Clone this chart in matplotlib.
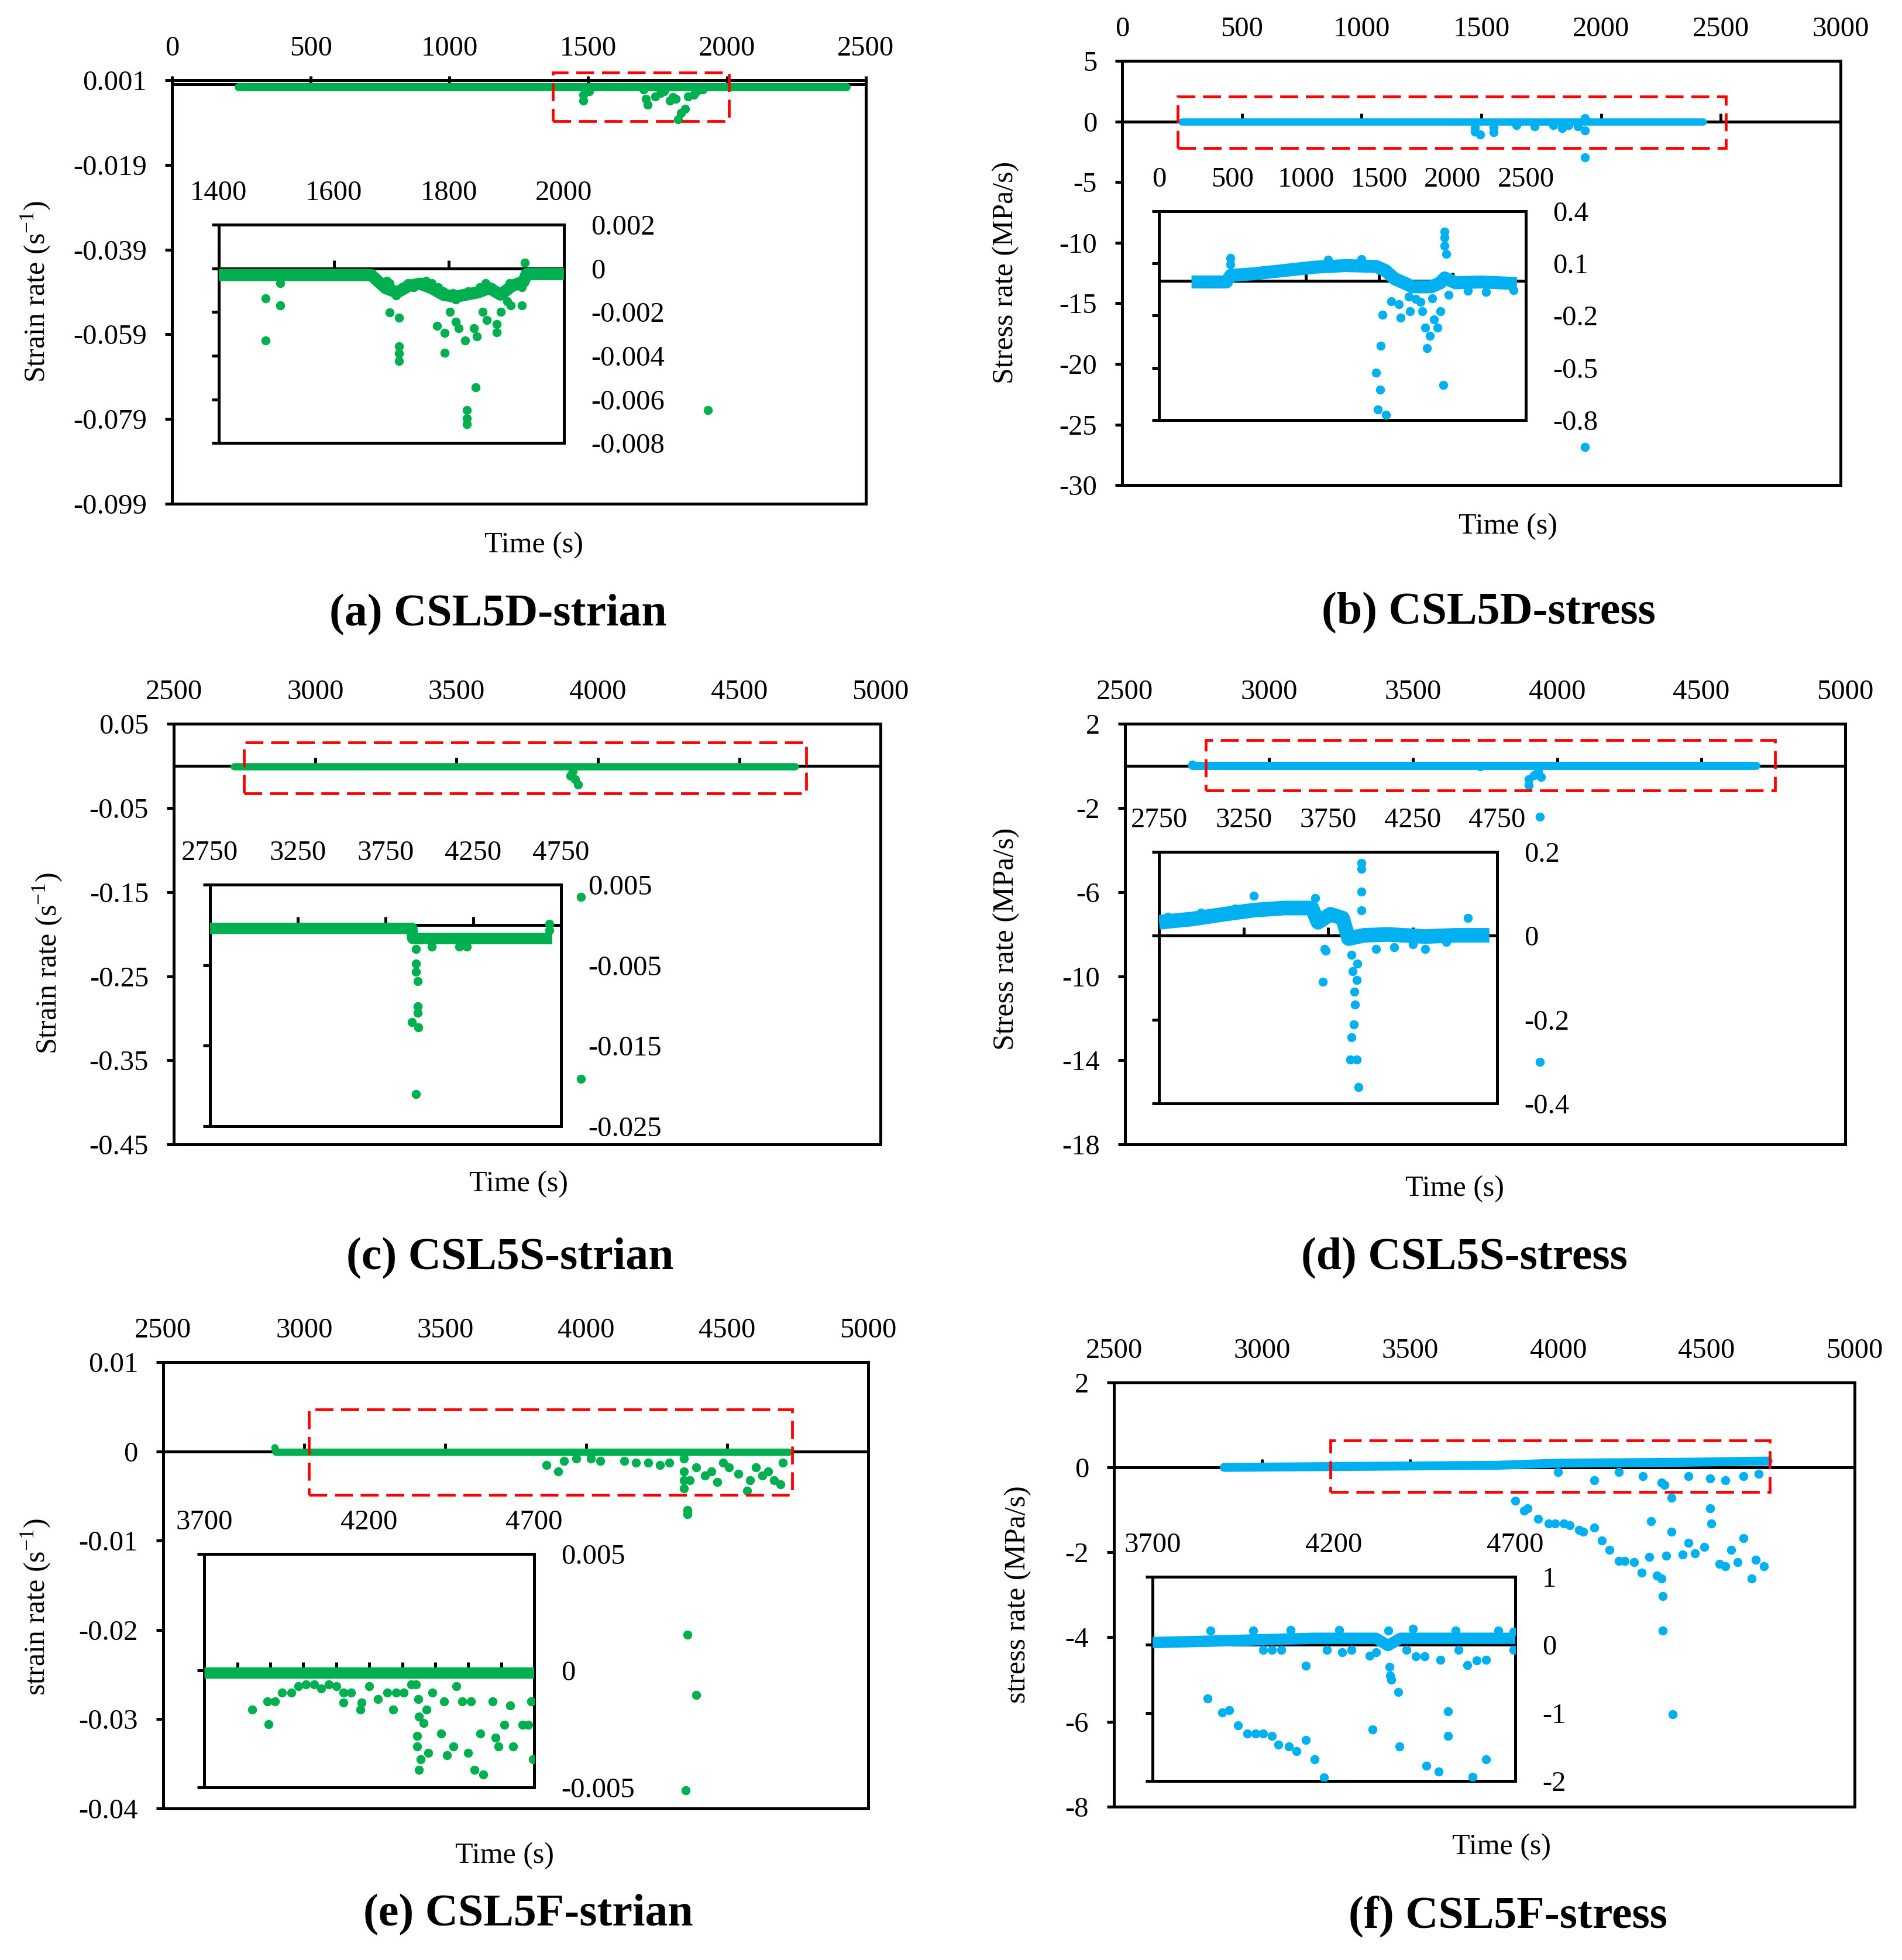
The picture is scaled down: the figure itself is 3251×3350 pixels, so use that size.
import numpy as np
import matplotlib
matplotlib.use('Agg')
import matplotlib.pyplot as plt
from matplotlib.patches import Rectangle
from matplotlib.ticker import FixedLocator, FuncFormatter, MultipleLocator

plt.rcParams['font.family'] = ['Liberation Serif', 'DejaVu Serif']
plt.rcParams['axes.unicode_minus'] = False
plt.rcParams['mathtext.fontset'] = 'custom'
plt.rcParams['mathtext.rm'] = 'Liberation Serif'

GREEN = '#00B050'
BLUE = '#00B0F0'

# ---------------- (a) CSL5D strain ----------------
a_band_t = [240, 2430]
a_band_v = [-0.0006, -0.0006]
a_pts_t = [1482, 1482, 1503, 1700, 1708, 1715, 1741, 1760, 1773, 1795, 1805, 1816, 1823, 1834,
           1849, 1859, 1881, 1892, 1913, 1931]
a_pts_v = [-0.0038, -0.0024, -0.0016, -0.0012, -0.0034, -0.0048, -0.0029, -0.0020, -0.0016,
           -0.0038, -0.0030, -0.0034, -0.0082, -0.0067, -0.0058, -0.0029, -0.0024, -0.0016,
           -0.0012, -0.0769]
a_box = [1372, 2008, -0.0087, 0.0028]
a_in_band_t = [1400, 1665, 1690, 1710, 1730, 1750, 1770, 1790, 1810, 1830, 1850, 1870, 1890,
               1910, 1930, 1935, 2000]
a_in_band_v = [-0.0003, -0.0003, -0.0009, -0.0011, -0.0008, -0.0007, -0.0009, -0.0012, -0.0013,
               -0.0012, -0.0011, -0.0009, -0.0012, -0.0008, -0.0006, -0.00026, -0.00026]
a_in_pts_t = [1481, 1481, 1507, 1507, 1677, 1687, 1697, 1703, 1708, 1692, 1718, 1729, 1739, 1750,
              1760, 1770, 1781, 1791, 1797, 1807, 1812, 1823, 1833, 1843, 1854, 1864, 1875, 1885,
              1896, 1906, 1917, 1927, 1932,
              1697, 1713, 1713, 1713, 1713, 1779, 1793, 1793, 1802, 1812, 1817, 1828, 1831, 1831,
              1831, 1843, 1847, 1849, 1859, 1866, 1883, 1883, 1890, 1901, 1908, 1927]
a_in_pts_v = [-0.00138, -0.0033, -0.00067, -0.0017, -0.00067, -0.00086, -0.00067, -0.00105,
              -0.00123, -0.00058, -0.00086, -0.00067, -0.00086, -0.00067, -0.00058, -0.00067,
              -0.00086, -0.00105, -0.00123, -0.00114, -0.00142, -0.00123, -0.00105, -0.00114,
              -0.00086, -0.00067, -0.00086, -0.00114, -0.00105, -0.00067, -0.00067, -0.00086,
              0.00027,
              -0.00202, -0.00227, -0.00358, -0.0039, -0.00424, -0.00264, -0.00296, -0.00386,
              -0.00198, -0.00245, -0.00274, -0.0033, -0.0065, -0.00687, -0.00715, -0.00274,
              -0.00546, -0.00311, -0.00198, -0.00236, -0.00255, -0.00292, -0.00198, -0.00152,
              -0.0017, -0.0017]
a_xticks = [0, 500, 1000, 1500, 2000, 2500]
a_yticks = [-0.099, -0.079, -0.059, -0.039, -0.019, 0.001]
a_in_xticks = [1400, 1600, 1800, 2000]
a_in_yticks = [-0.008, -0.006, -0.004, -0.002, 0, 0.002]

# ---------------- (b) CSL5D stress ----------------
b_band_t = [250, 2425]
b_band_v = [0, 0]
b_pts_t = [1473, 1494, 1473, 1552, 1552, 1647, 1723, 1800, 1838, 1864, 1902, 1933, 1933, 1933, 1933]
b_pts_v = [-0.82, -1.09, -0.48, -0.88, -0.48, -0.31, -0.41, -0.31, -0.55, -0.31, -0.41, -0.75,
           0.27, -2.95, -26.86]
b_box = [231, 2522, -2.2, 2.05]
b_in_band_t = [221, 458, 487, 646, 854, 1063, 1271, 1479, 1542, 1604, 1729, 1854, 1917, 1946,
               2021, 2188, 2438]
b_in_band_v = [-0.007, -0.007, 0.03, 0.04, 0.059, 0.078, 0.087, 0.082, 0.059, 0.012, -0.035,
               -0.035, -0.012, 0.016, -0.012, -0.007, -0.016]
b_in_pts_t = [487, 487, 1492, 1479, 1508, 1546, 1512, 1521, 1583, 1633, 1646, 1708, 1750, 1792,
              1813, 1825, 1846, 1875, 1896, 1917, 1938, 1946, 1946, 1946, 1958, 1971, 2104, 2229,
              2417, 1150, 1380, 1700, 1780, 1860]
b_in_pts_v = [0.13, 0.094, -0.741, -0.529, -0.624, -0.769, -0.372, -0.195, -0.118, -0.134,
              -0.212, -0.176, -0.106, -0.176, -0.27, -0.388, -0.318, -0.224, -0.271, -0.176,
              -0.6, 0.282, 0.247, 0.2, 0.153, -0.082, -0.059, -0.063, -0.054, 0.12, 0.125,
              -0.09, -0.12, -0.1]
b_xticks = [0, 500, 1000, 1500, 2000, 2500, 3000]
b_yticks = [-30, -25, -20, -15, -10, -5, 0, 5]
b_in_xticks = [0, 500, 1000, 1500, 2000, 2500]
b_in_yticks = [-0.8, -0.5, -0.2, 0.1, 0.4]

# ---------------- (c) CSL5S strain ----------------
c_band_t = [2712, 4698]
c_band_v = [-0.0005, -0.0005]
c_pts_t = [3902, 3919, 3929, 3912, 3940, 3940]
c_pts_v = [-0.0118, -0.0157, -0.0221, -0.006, -0.1555, -0.372]
c_box = [2748, 4737, -0.033, 0.028]
c_in_band_t = [2750, 3900, 3905, 4700]
c_in_band_v = [-0.00044, -0.00044, -0.0017, -0.0017]
c_in_pts_t = [4015, 4169, 4213, 3923, 3923, 3923, 3933, 3933, 3933, 3899, 3936, 3923, 4682, 4682]
c_in_pts_v = [-0.0027, -0.0027, -0.0027, -0.003, -0.0048, -0.0058, -0.007, -0.0101, -0.0109,
              -0.0121, -0.0127, -0.021, 0.0001, -0.0007]
c_xticks = [2500, 3000, 3500, 4000, 4500, 5000]
c_yticks = [-0.45, -0.35, -0.25, -0.15, -0.05, 0.05]
c_in_xticks = [2750, 3250, 3750, 4250, 4750]
c_in_yticks = [-0.025, -0.015, -0.005, 0.005]

# ---------------- (d) CSL5S stress ----------------
d_band_t = [2734, 4692]
d_band_v = [0, 0]
d_pts_t = [2734, 3732, 3902, 3902, 3919, 3944, 3934, 3940, 3940]
d_pts_v = [0.05, -0.04, -0.63, -0.92, -0.43, -0.53, -0.24, -2.42, -14.07]
d_box = [2780, 4756, -1.17, 1.22]
d_in_band_t = [2750, 2949, 3130, 3311, 3491, 3654, 3690, 3763, 3835, 3871, 3962, 4106, 4323,
               4504, 4703]
d_in_band_v = [0.032, 0.040, 0.051, 0.061, 0.066, 0.066, 0.032, 0.051, 0.042, -0.007, 0.001,
               0.003, -0.002, 0.001, 0.001]
d_in_pts_t = [3311, 3672, 3727, 3734, 3719, 3889, 3896, 3904, 3907, 3900, 3889, 3882, 3918, 3929,
              3947, 3947, 3947, 3947, 3921, 3918, 4577, 4034, 4142, 4323, 2800, 3000, 3200, 4250,
              4450]
d_in_pts_v = [0.095, 0.09, -0.032, -0.036, -0.11, -0.046, -0.085, -0.134, -0.164, -0.212, -0.242,
              -0.295, -0.295, -0.361, 0.174, 0.159, 0.105, 0.061, -0.066, -0.105, 0.042, -0.032,
              -0.027, -0.032, 0.045, 0.055, 0.065, -0.02, -0.015]
d_xticks = [2500, 3000, 3500, 4000, 4500, 5000]
d_yticks = [-18, -14, -10, -6, -2, 2]
d_in_xticks = [2750, 3250, 3750, 4250, 4750]
d_in_yticks = [-0.4, -0.2, 0, 0.2]

# ---------------- (e) CSL5F strain ----------------
e_band_t = [2896, 2900, 4719]
e_band_v = [0.0004, -0.0001, -0.0001]
e_pts_t = [3858, 3900, 3921, 3964, 4017, 4049, 4134, 4177, 4219, 4262, 4294, 4347, 4347, 4347,
           4347, 4358, 4358, 4368, 4390, 4422, 4443, 4464, 4485, 4507, 4539, 4571, 4581, 4602,
           4624, 4645, 4666, 4688, 4698, 4358, 4390, 4353]
e_pts_v = [-0.00154, -0.00226, -0.00106, -0.00082, -0.00082, -0.00106, -0.00106, -0.0013,
           -0.0013, -0.00154, -0.0013, -0.00082, -0.00226, -0.00322, -0.00418, -0.00659,
           -0.00707, -0.00322, -0.00178, -0.00274, -0.00226, -0.00346, -0.0013, -0.00178,
           -0.0025, -0.00442, -0.00322, -0.00178, -0.00274, -0.00226, -0.00322, -0.0037,
           -0.0013, -0.02053, -0.02726, -0.03794]
e_box = [3017, 4730, -0.0049, 0.0047]
e_in_band_t = [3700, 4700]
e_in_band_v = [-0.0001, -0.0001]
e_in_pts_t = [3845, 3895, 3891, 3915, 3936, 3964, 3985, 4009, 4033, 4055, 4078, 4100, 4122, 4122,
              4145, 4173, 4176, 4200, 4227, 4255, 4273, 4282, 4304, 4327, 4345, 4345, 4355, 4351,
              4351, 4364, 4373, 4378, 4391, 4418, 4427, 4436, 4455, 4464, 4482, 4500, 4509, 4518,
              4536, 4545, 4573, 4582, 4591, 4609, 4627, 4636, 4664, 4682, 4691, 4696, 4342, 4349]
e_in_pts_v = [-0.00168, -0.00229, -0.00132, -0.00132, -0.00095, -0.00095, -0.00067, -0.00058,
              -0.00058, -0.00076, -0.00058, -0.00067, -0.00095, -0.00137, -0.00095, -0.00168,
              -0.00137, -0.00067, -0.00122, -0.00095, -0.00168, -0.00095, -0.00095, -0.00058,
              -0.00279, -0.00325, -0.0038, -0.00426, -0.00196, -0.00224, -0.00168, -0.00353,
              -0.00095, -0.0027, -0.00132, -0.00362, -0.00325, -0.00067, -0.00132, -0.00353,
              -0.00132, -0.00426, -0.0027, -0.00445, -0.00132, -0.00288, -0.00325, -0.00233,
              -0.0015, -0.00325, -0.00233, -0.00233, -0.00132, -0.0038, -0.00058, -0.00122]
e_xticks = [2500, 3000, 3500, 4000, 4500, 5000]
e_yticks = [-0.04, -0.03, -0.02, -0.01, 0, 0.01]
e_in_xticks = [3700, 4200, 4700]
e_in_yticks = [-0.005, 0, 0.005]

# ---------------- (f) CSL5F stress ----------------
f_band_t = [2872, 3792, 3998, 4409, 4708]
f_band_v = [0, 0.05, 0.1, 0.12, 0.15]
f_pts_t = [3854, 3885, 3895, 3932, 3967, 3988, 4019, 4039, 4070, 4084, 4121, 4146, 4173, 4204,
           4224, 4255, 4282, 4307, 4313, 4333, 4348, 4352, 4352, 4364, 4381, 4385, 4420, 4440,
           4461, 4492, 4512, 4516, 4543, 4564, 4584, 4605, 4625, 4652, 4667, 4693,
           4121, 4204, 4286, 4348, 4358, 4440, 4512, 4564, 4625, 4677, 4381, 3998]
f_pts_v = [-0.783, -1.016, -0.965, -1.218, -1.32, -1.32, -1.32, -1.37, -1.472, -1.522, -1.421,
           -1.725, -1.947, -2.21, -2.21, -2.231, -2.484, -2.109, -1.269, -2.555, -2.615, -3.04,
           -3.85, -2.079, -1.522, -5.824, -2.048, -1.775, -2.028, -1.876, -0.965, -1.32, -2.281,
           -2.332, -1.947, -2.231, -1.674, -2.615, -2.18, -2.332,
           -0.308, -0.105, -0.206, -0.358, -0.409, -0.206, -0.257, -0.308, -0.206, -0.156,
           -0.71, -0.105]
f_box = [3230, 4714, -0.58, 0.63]
f_in_band_t = [3700, 3843, 4147, 4316, 4349, 4383, 4703]
f_in_band_v = [0.034, 0.053, 0.097, 0.097, -0.01, 0.097, 0.097]
f_in_pts_t = [3852, 3891, 3911, 3936, 3961, 3983, 4004, 4029, 4046, 4076, 4096, 4122, 4147, 4172,
              4307, 4380, 4455, 4489, 4515, 4515, 4582, 4619,
              4122, 4299, 4353, 4354, 4358, 4378, 4425, 4450, 4493, 4543, 4568, 4594, 4619, 4005,
              4029, 4054, 4181, 4223, 4248, 4316, 4400, 4695,
              3860, 3978, 4080, 4215, 4350, 4417, 4535, 4653, 4695]
f_in_pts_v = [-0.787, -0.989, -0.958, -1.179, -1.305, -1.305, -1.305, -1.337, -1.463, -1.495,
              -1.558, -1.4, -1.684, -1.949, -1.242, -1.495, -1.779, -1.861, -0.977, -1.337,
              -1.937, -1.684,
              -0.307, -0.156, -0.326, -0.453, -0.516, -0.693, -0.168, -0.168, -0.219, -0.074,
              -0.295, -0.232, -0.219, -0.074, -0.074, -0.074, -0.074, -0.105, -0.074, -0.105,
              -0.074, -0.074,
              0.21, 0.21, 0.22, 0.22, 0.21, 0.24, 0.21, 0.21, 0.19]
f_xticks = [2500, 3000, 3500, 4000, 4500, 5000]
f_yticks = [-8, -6, -4, -2, 0, 2]
f_in_xticks = [3700, 4200, 4700]
f_in_yticks = [-2, -1, 0, 1]

FS = 35
LW = 3.6


def fmt(v, pos=None):
    return '%g' % (round(v, 6) + 0.0)


def style(ax, xticks, yticks, inset=False, xminor=None):
    ax.set_xlim(xticks[0], xticks[-1])
    ax.set_ylim(yticks[0], yticks[-1])
    ax.xaxis.set_major_locator(FixedLocator(xticks))
    ax.yaxis.set_major_locator(FixedLocator(yticks))
    ax.xaxis.set_major_formatter(FuncFormatter(fmt))
    ax.yaxis.set_major_formatter(FuncFormatter(fmt))
    for s in ax.spines.values():
        s.set_linewidth(LW)
    ax.spines['bottom'].set_position(('data', 0))
    ax.axhline(yticks[0], color='k', lw=LW, clip_on=False, zorder=2.5)
    ax.tick_params(axis='x', bottom=True, top=False, labelbottom=False, labeltop=True,
                   direction='in', length=10, width=LW, pad=23, labelsize=FS)
    if xminor:
        ax.xaxis.set_minor_locator(MultipleLocator(xminor))
        ax.tick_params(axis='x', which='minor', bottom=True, top=False, direction='in',
                       length=10, width=LW)
    if inset:
        ax.tick_params(axis='y', left=True, right=False, labelleft=False, labelright=True,
                       direction='out', length=9, width=LW, pad=24, labelsize=FS)
    else:
        ax.tick_params(axis='y', left=True, right=False, labelleft=True, direction='out',
                       length=9, width=LW, pad=22, labelsize=FS)


def panel(fig, rect, in_rect, color, band_t, band_v, band_lw, pts_t, pts_v, box,
          xticks, yticks, in_band_t, in_band_v, in_band_lw, in_pts_t, in_pts_v,
          in_xticks, in_yticks, in_xminor=None):
    ax = fig.add_axes(rect)
    ax.plot(band_t, band_v, color=color, lw=band_lw, solid_capstyle='round', zorder=3)
    ax.scatter(pts_t, pts_v, s=125, color=color, lw=0, zorder=3, clip_on=False)
    style(ax, xticks, yticks)
    ax.add_patch(Rectangle((box[0], box[2]), box[1] - box[0], box[3] - box[2], fill=False,
                           ec='#FF0000', lw=3.4, ls=(0, (6.5, 2.8)), clip_on=False, zorder=4))

    ins = fig.add_axes(in_rect)
    ins.set_facecolor('white')
    ins.plot(in_band_t, in_band_v, color=color, lw=in_band_lw, solid_capstyle='butt',
             solid_joinstyle='round', zorder=3)
    ins.scatter(in_pts_t, in_pts_v, s=125, color=color, lw=0, zorder=3)
    style(ins, in_xticks, in_yticks, inset=True, xminor=in_xminor)
    return ax, ins


fig = plt.figure(figsize=(32.51, 33.5), dpi=100)

panel(fig, [0.0904, 0.7430, 0.3648, 0.2161], [0.1150, 0.7740, 0.1815, 0.1113], GREEN,
      a_band_t, a_band_v, 10, a_pts_t, a_pts_v, a_box, a_xticks, a_yticks,
      a_in_band_t, a_in_band_v, 15, a_in_pts_t, a_in_pts_v, a_in_xticks, a_in_yticks)
panel(fig, [0.5900, 0.7525, 0.3777, 0.2164], [0.6094, 0.7857, 0.1929, 0.1066], BLUE,
      b_band_t, b_band_v, 9, b_pts_t, b_pts_v, b_box, b_xticks, b_yticks,
      b_in_band_t, b_in_band_v, 16, b_in_pts_t, b_in_pts_v, b_in_xticks, b_in_yticks)
panel(fig, [0.0914, 0.4161, 0.3716, 0.2146], [0.1104, 0.4254, 0.1846, 0.1233], GREEN,
      c_band_t, c_band_v, 9, c_pts_t, c_pts_v, c_box, c_xticks, c_yticks,
      c_in_band_t, c_in_band_v, 14, c_in_pts_t, c_in_pts_v, c_in_xticks, c_in_yticks)
panel(fig, [0.5915, 0.4161, 0.3787, 0.2146], [0.6094, 0.4370, 0.1778, 0.1284], BLUE,
      d_band_t, d_band_v, 10, d_pts_t, d_pts_v, d_box, d_xticks, d_yticks,
      d_in_band_t, d_in_band_v, 18, d_in_pts_t, d_in_pts_v, d_in_xticks, d_in_yticks)
panel(fig, [0.0858, 0.0773, 0.3707, 0.2278], [0.1074, 0.0881, 0.1735, 0.1191], GREEN,
      e_band_t, e_band_v, 9, e_pts_t, e_pts_v, e_box, e_xticks, e_yticks,
      e_in_band_t, e_in_band_v, 14, e_in_pts_t, e_in_pts_v, e_in_xticks, e_in_yticks,
      in_xminor=100)
panel(fig, [0.5857, 0.0782, 0.3894, 0.2164], [0.6060, 0.0913, 0.1907, 0.1042], BLUE,
      f_band_t, f_band_v, 11, f_pts_t, f_pts_v, f_box, f_xticks, f_yticks,
      f_in_band_t, f_in_band_v, 14, f_in_pts_t, f_in_pts_v, f_in_xticks, f_in_yticks)

# axis titles and captions
ylabels = ['Strain rate (s$^{\\mathregular{-1}}$)', 'Stress rate (MPa/s)',
           'Strain rate (s$^{\\mathregular{-1}}$)', 'Stress rate (MPa/s)',
           'strain rate (s$^{\\mathregular{-1}}$)', 'stress rate (MPa/s)']
ylabel_xy = [(0.0191, 0.8513), (0.5288, 0.8609), (0.0252, 0.5084), (0.5291, 0.5209),
             (0.0191, 0.1800), (0.5352, 0.1866)]
time_xy = [(0.2808, 0.7218), (0.7927, 0.7313), (0.2728, 0.3958), (0.7647, 0.3934),
           (0.2652, 0.0531), (0.7893, 0.0576)]
captions = ['(a) CSL5D-strian', '(b) CSL5D-stress', '(c) CSL5S-strian', '(d) CSL5S-stress',
            '(e) CSL5F-strian', '(f) CSL5F-stress']
caption_xy = [(0.2618, 0.6863), (0.7828, 0.6872), (0.2682, 0.3579), (0.7699, 0.3579),
              (0.2778, 0.0230), (0.7927, 0.0224)]

for lab, (x, y) in zip(ylabels, ylabel_xy):
    fig.text(x, y, lab, rotation=90, ha='center', va='center', fontsize=36)
for x, y in time_xy:
    fig.text(x, y, 'Time (s)', ha='center', va='center', fontsize=36)
for cap, (x, y) in zip(captions, caption_xy):
    fig.text(x, y, cap, ha='center', va='center', fontsize=56, fontweight='bold')

fig.savefig('out.png', dpi=100, facecolor='white')
